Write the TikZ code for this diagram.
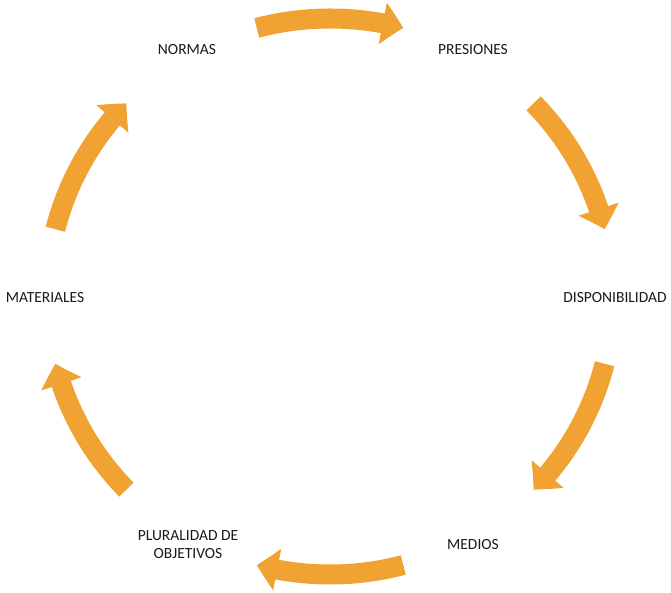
\documentclass[tikz,border=0pt]{standalone}
\usepackage{fontspec}
\setmainfont{Carlito}
\usetikzlibrary{arrows.meta,bending}
\definecolor{cycleorange}{HTML}{F0A332}
\tikzset{
    cycle-label/.style = {text=black!90, font=\fontsize{15.5}{18}\selectfont, align=center, inner sep=0pt},
    cycle-arrow/.style = {draw=cycleorange, line width=20pt, -{Triangle[width=41pt,length=21pt,bend]}},
}

\begin{document}
\begin{tikzpicture}[x=1pt,y=1pt]
\useasboundingbox (-330,-296.5) rectangle (341,296.5);
% labels
\node[cycle-label] (normas) at (-143,246.5) {NORMAS};
\node[cycle-label] (presiones) at (143,246.5) {PRESIONES};
\node[cycle-label] (disponibilidad) at (285,-1.5) {DISPONIBILIDAD};
\node[cycle-label] (medios) at (143,-248.5) {MEDIOS};
\node[cycle-label] (pluralidad) at (-142,-248.5) {PLURALIDAD DE\\OBJETIVOS};
\node[cycle-label] (materiales) at (-285,-1.5) {MATERIALES};
% arrows on the ring
\foreach \s/\e/\n in {105/75/top, 44/14/upright, -14/-44/lowright, -75/-105/bottom, -136/-166/lowleft, 166/136/upleft}{
    \coordinate (\n-start) at (\s:283pt and 278pt);
    \draw[cycle-arrow] (\n-start) arc[start angle=\s, end angle=\e, x radius=283pt, y radius=278pt];
}
\end{tikzpicture}
\end{document}
